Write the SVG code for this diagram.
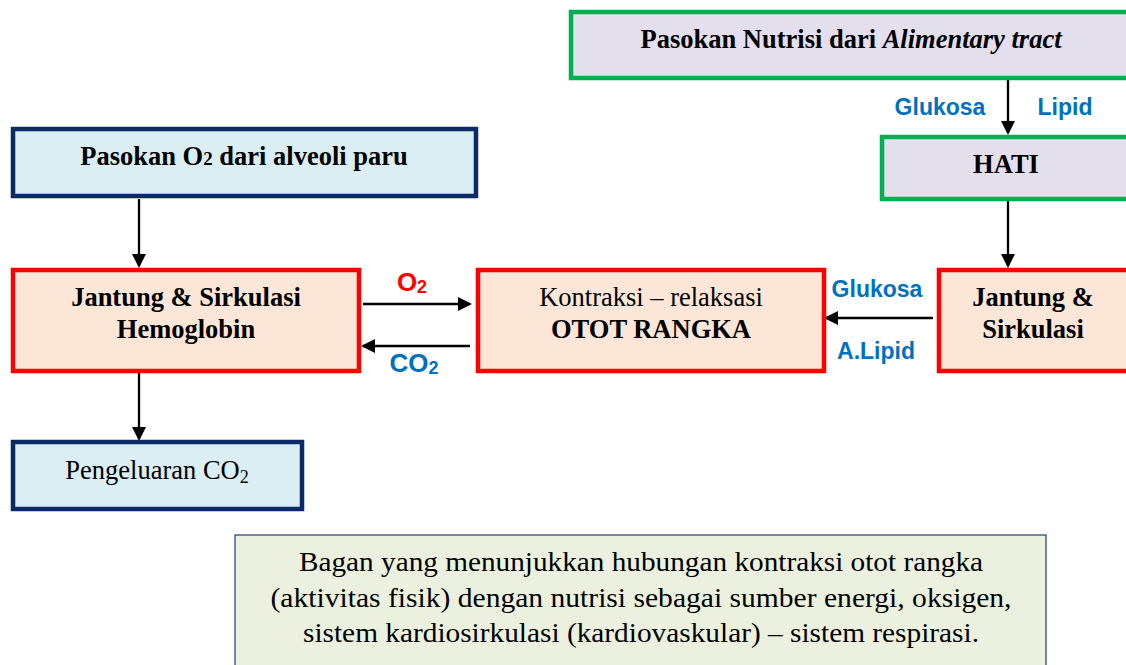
<svg xmlns="http://www.w3.org/2000/svg" width="1126" height="665" viewBox="0 0 1126 665">
  <defs>
    <marker id="arrow" markerWidth="14" markerHeight="14" refX="12" refY="7" orient="auto" markerUnits="userSpaceOnUse">
      <path d="M0,0 L14,7 L0,14 Z" fill="#000"/>
    </marker>
    <style>
      .serif { font-family: "Liberation Serif", "Times New Roman", serif; fill: #000; }
      .b { font-weight: bold; }
      .sans { font-family: "Liberation Sans", Arial, sans-serif; font-weight: bold; }
      .blue { fill: #0070C0; }
      .red { fill: #FF0000; }
      .green-box { fill: #E4DFEC; stroke: #00B050; stroke-width: 4.5; }
      .red-box { fill: #FBE6D7; stroke: #FF0000; stroke-width: 4.5; }
      .navy-box { fill: #DAEEF3; stroke: #0E2A66; stroke-width: 4.5; }
      .caption-box { fill: #EBF1DE; stroke: #1F3A7A; stroke-width: 1.2; }
      .conn { stroke: #000; stroke-width: 2.3; fill: none; marker-end: url(#arrow); }
    </style>
  </defs>

  <rect width="1126" height="665" fill="#FFFFFF"/>

  <!-- connectors -->
  <g id="connectors">
    <line class="conn" x1="1008" y1="80" x2="1008" y2="133"/>
    <line class="conn" x1="1008" y1="200" x2="1008" y2="266"/>
    <line class="conn" x1="933" y1="318" x2="826" y2="318"/>
    <line class="conn" x1="363" y1="304" x2="470" y2="304"/>
    <line class="conn" x1="470" y1="346" x2="363" y2="346"/>
    <line class="conn" x1="139" y1="199" x2="139" y2="266"/>
    <line class="conn" x1="139" y1="373" x2="139" y2="439"/>
  </g>

  <!-- connector labels -->
  <g id="connector-labels">
    <text class="sans blue" x="940" y="115" font-size="23" text-anchor="middle">Glukosa</text>
    <text class="sans blue" x="1065" y="115" font-size="23" text-anchor="middle">Lipid</text>
    <text class="sans blue" x="877" y="297" font-size="23" text-anchor="middle">Glukosa</text>
    <text class="sans blue" x="876" y="359" font-size="23" text-anchor="middle">A.Lipid</text>
    <text class="sans red" x="412" y="291" font-size="26" text-anchor="middle">O<tspan font-size="18" dy="2">2</tspan></text>
    <text class="sans blue" x="414" y="372" font-size="26" text-anchor="middle">CO<tspan font-size="18" dy="2">2</tspan></text>
  </g>

  <!-- nutrient supply -->
  <g id="node-nutrisi">
    <rect class="green-box" x="571" y="12" width="570" height="66"/>
    <text class="serif b" x="851" y="48" font-size="26.5" text-anchor="middle">Pasokan Nutrisi dari <tspan font-style="italic">Alimentary tract</tspan></text>
  </g>

  <!-- liver -->
  <g id="node-hati">
    <rect class="green-box" x="882" y="137" width="260" height="62"/>
    <text class="serif b" x="1006" y="173" font-size="26.5" text-anchor="middle">HATI</text>
  </g>

  <!-- heart & circulation (right) -->
  <g id="node-jantung-kanan">
    <rect class="red-box" x="939" y="270" width="200" height="101"/>
    <text class="serif b" x="1033" y="306" font-size="26.5" text-anchor="middle">Jantung &amp;</text>
    <text class="serif b" x="1033" y="338" font-size="26.5" text-anchor="middle">Sirkulasi</text>
  </g>

  <!-- skeletal muscle -->
  <g id="node-otot">
    <rect class="red-box" x="478" y="270" width="346" height="101"/>
    <text class="serif" x="651" y="306" font-size="26.5" text-anchor="middle">Kontraksi – relaksasi</text>
    <text class="serif b" x="651" y="338" font-size="26.5" text-anchor="middle">OTOT RANGKA</text>
  </g>

  <!-- heart & circulation (left) -->
  <g id="node-jantung-kiri">
    <rect class="red-box" x="13" y="270" width="346" height="101"/>
    <text class="serif b" x="186" y="306" font-size="26.5" text-anchor="middle">Jantung &amp; Sirkulasi</text>
    <text class="serif b" x="186" y="338" font-size="26.5" text-anchor="middle">Hemoglobin</text>
  </g>

  <!-- oxygen supply -->
  <g id="node-o2">
    <rect class="navy-box" x="13" y="129" width="463" height="67"/>
    <text class="serif b" x="244" y="165" font-size="26.5" text-anchor="middle">Pasokan O<tspan font-size="19">2</tspan> dari alveoli paru</text>
  </g>

  <!-- CO2 output -->
  <g id="node-co2">
    <rect class="navy-box" x="13" y="442" width="289" height="67"/>
    <text class="serif" x="157" y="479" font-size="26.5" text-anchor="middle">Pengeluaran CO<tspan font-size="18" dy="4">2</tspan></text>
  </g>

  <!-- caption -->
  <g id="caption">
    <rect class="caption-box" x="235" y="535" width="811" height="140"/>
    <text class="serif" x="641" y="571" font-size="27" text-anchor="middle" textLength="684" lengthAdjust="spacingAndGlyphs">Bagan yang menunjukkan hubungan kontraksi otot rangka</text>
    <text class="serif" x="641" y="607" font-size="27" text-anchor="middle" textLength="741" lengthAdjust="spacingAndGlyphs">(aktivitas fisik) dengan nutrisi sebagai sumber energi, oksigen,</text>
    <text class="serif" x="641" y="642" font-size="27" text-anchor="middle" textLength="676" lengthAdjust="spacingAndGlyphs">sistem kardiosirkulasi (kardiovaskular) – sistem respirasi.</text>
  </g>
</svg>
